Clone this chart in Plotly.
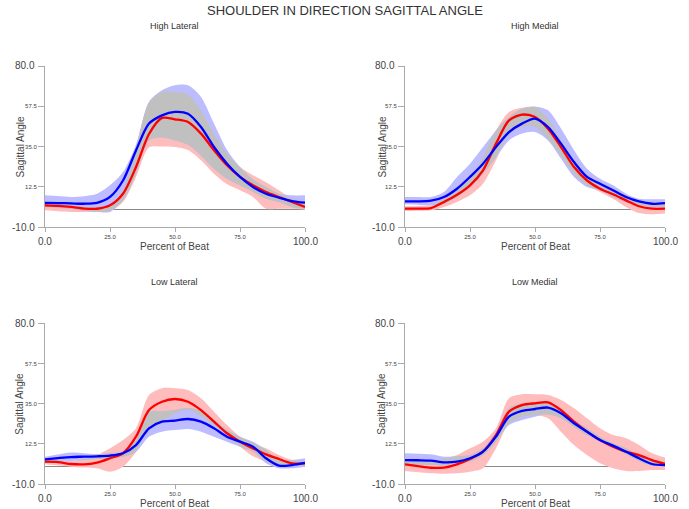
import numpy as np
import plotly.graph_objects as go

# ---------------- data ----------------
pct = [0, 5, 10, 15, 20, 25, 30, 35, 40, 45, 50, 55, 60, 65, 70, 75, 80, 85, 90, 95, 100]

panel_titles = ["High Lateral", "High Medial", "Low Lateral", "Low Medial"]

# High Lateral
hl_blue = [3.5, 3.4, 3.2, 3.0, 3.5, 6.8, 16, 32.8, 47.8, 52.4, 54.3, 53.3, 45.9, 34.7, 25.4, 18, 12.4, 8.6, 6.4, 4.5, 3.6]
hl_blue_hi = [7.7, 7.3, 6.8, 7.2, 8.6, 13.3, 20.7, 36, 60, 66.4, 69.2, 69.2, 62.7, 47.8, 33, 23.5, 16.5, 12.4, 8.6, 7.7, 7.7]
hl_blue_lo = [1.2, 0.8, 0.2, -0.8, -1.6, -1.6, 4.9, 19.8, 38.4, 40, 38.4, 36, 30, 22.6, 17, 13.3, 9.6, 5.8, 4, 1.2, 0.2]
hl_red = [2.1, 1.8, 1.2, 0.3, 0.2, 2.1, 8.6, 23.5, 42, 51, 50.2, 48.7, 42.2, 32.9, 24.5, 18, 13.3, 9.6, 6.8, 4, 1.2]
hl_red_hi = [3, 2.5, 2, 1.5, 1, 2, 10.5, 34, 59.5, 65.5, 65.5, 64, 55, 42, 31, 23.5, 18.9, 15, 10.5, 5.8, 3]
hl_red_lo = [-0.7, -1.2, -1.6, -1.6, -1.6, -1, 4, 18, 34.5, 35, 34.7, 33, 27.3, 19.8, 14, 10.5, 6.8, 0.2, 0.2, 0.2, -0.3]

# High Medial
hm_blue = [4.3, 4.3, 4.7, 6.8, 11.4, 18, 25.4, 34.7, 43.1, 47.8, 50.6, 45.9, 36.6, 26.3, 18, 14.2, 10.5, 6.8, 4.3, 3, 3.4]
hm_blue_hi = [6.8, 6.8, 6.8, 9.6, 18, 25.4, 34.7, 44, 51.5, 56.1, 57.4, 55.2, 45, 32.9, 22.6, 17, 13.3, 8.6, 5.8, 5.5, 5.5]
hm_blue_lo = [2.7, 2.5, 2.1, 3, 6.8, 12.4, 19.8, 29, 38.4, 42.2, 43.1, 38.4, 28.2, 18, 12.4, 10.5, 6.8, 4, 2.1, 1.2, 1.2]
hm_red = [0.25, 0.3, 0.6, 4, 8, 13.3, 21.7, 36.6, 49.6, 52.8, 51.5, 45, 34.7, 23.5, 16, 11.4, 8.3, 4.9, 1.6, 0.25, 0.25]
hm_red_hi = [1.6, 1.8, 2.1, 5.8, 11.4, 18, 29, 44, 54.3, 56.7, 57, 50.6, 38.4, 27.3, 18.9, 13.3, 10.1, 6.8, 4, 2.7, 2.7]
hm_red_lo = [-1, -0.9, -0.7, 1.2, 4, 7.7, 14.2, 27.3, 42, 46, 45.9, 39.4, 30, 19.8, 13.3, 9.6, 5.8, 1.2, -2.2, -2.9, -2.5]

# Low Lateral
ll_blue = [3.8, 4.5, 5.1, 5.3, 5.5, 5.9, 7.2, 11.8, 21.2, 24.9, 25.5, 26.4, 24.9, 21.2, 16.5, 13.7, 10.9, 4.4, 0.3, 0.6, 1.8]
ll_blue_hi = [5.3, 6.5, 7.6, 7.2, 6.8, 7.4, 8.1, 14.6, 30.5, 30.8, 31.5, 32.5, 31, 25.8, 20.2, 16.5, 13.7, 9, 3.4, 3.4, 4.4]
ll_blue_lo = [2.1, 2.5, 2.9, 3.4, 4, 4.6, 5.3, 8.1, 16.5, 19.3, 20.2, 20.8, 19.3, 16.5, 13.7, 10.9, 8.1, 1.6, -1.2, -1.2, -0.3]
ll_red = [2.5, 2.3, 1.2, 1, 2, 4.4, 7.2, 16.5, 31.4, 36.1, 37.6, 36.1, 31.4, 24.9, 18.4, 13.7, 10, 6.6, 4, 1.6, 1.6]
ll_red_hi = [4, 3.5, 2.9, 4, 6.2, 10, 14.6, 21.2, 39.8, 43.6, 43.6, 42.7, 38, 30.5, 23, 16.5, 12.8, 10, 6.2, 3.4, 2.5]
ll_red_lo = [1, 0.3, -0.3, -0.8, -1.2, -3.1, -0.3, 8.1, 22, 25, 29.5, 31.5, 28, 23, 17.5, 11, 5.5, 2.5, 1, 0.3, 0.6]

# Low Medial
lm_blue = [3.4, 3.3, 3.1, 2.1, 2.5, 4.4, 8.1, 16.5, 27.7, 30.9, 32, 32.8, 29.6, 24, 19.3, 14.6, 11.5, 8.1, 4.4, 1.2, 0.6]
lm_blue_hi = [7.2, 7, 6.6, 5.3, 5.5, 6.2, 10, 19.3, 32.4, 35.2, 35.2, 35.2, 32.4, 25.8, 21.2, 16.5, 12.8, 10, 6.2, 3.4, 2.5]
lm_blue_lo = [0.6, 0.6, 0.6, 0.3, 1.6, 2.5, 6.2, 13.7, 23, 25.8, 27.7, 29, 26.8, 22.1, 17.4, 13.7, 10.4, 6.6, 2.9, 0.3, 0.3]
lm_red = [1, 0, -0.9, -0.8, 1, 4, 8.1, 17.4, 30.5, 34.2, 35.2, 35.7, 31.4, 24.9, 19.3, 14.6, 10.9, 8.1, 6.2, 3.4, 1.2]
lm_red_hi = [3.4, 3.4, 3.4, 4, 6.2, 10, 13.7, 21.2, 38, 40.2, 40.2, 39.8, 37, 32.4, 26.8, 21.2, 17.4, 15.6, 11.8, 7.2, 4.8]
lm_red_lo = [-2.7, -3.4, -4, -4.3, -4, -3.1, -1.2, 10, 24, 27.7, 28.6, 26.8, 19.3, 11.8, 6.2, 1.6, -1.2, -2.7, -2.7, -2.2, -2.2]

y_ticks = [-10.0, 12.5, 35.0, 57.5, 80.0]
x_ticks = [0.0, 25.0, 50.0, 75.0, 100.0]

panels = [
    (hl_red, hl_red_lo, hl_red_hi, hl_blue, hl_blue_lo, hl_blue_hi),
    (hm_red, hm_red_lo, hm_red_hi, hm_blue, hm_blue_lo, hm_blue_hi),
    (ll_red, ll_red_lo, ll_red_hi, ll_blue, ll_blue_lo, ll_blue_hi),
    (lm_red, lm_red_lo, lm_red_hi, lm_blue, lm_blue_lo, lm_blue_hi),
]

# ---------------- layout geometry ----------------
W, H = 689, 509
def px(x):
    return x / W
def py(y):
    return 1 - y / H

x_doms = [[px(45), px(305)], [px(405), px(665)]]
y_doms = [[py(227), py(66)], [py(484), py(323.3)]]

PINK = "rgb(255,188,188)"
LBLUE = "rgb(188,188,255)"
GRAY = "rgb(192,192,192)"
TXT = "#444444"
FONT = "Liberation Sans, Arial, sans-serif"

fig = go.Figure()

def band(fig, xa, ya, lo, hi, color):
    fig.add_trace(go.Scatter(x=pct, y=lo, xaxis=xa, yaxis=ya, mode="lines",
                             line=dict(width=0, shape="spline", smoothing=0.8),
                             showlegend=False, hoverinfo="skip"))
    fig.add_trace(go.Scatter(x=pct, y=hi, xaxis=xa, yaxis=ya, mode="lines",
                             line=dict(width=0, shape="spline", smoothing=0.8),
                             fill="tonexty", fillcolor=color,
                             showlegend=False, hoverinfo="skip"))

annotations = []
for i, (r, rlo, rhi, b, blo, bhi) in enumerate(panels):
    row, col = divmod(i, 2)
    n = i + 1
    xa = "x" if n == 1 else f"x{n}"
    ya = "y" if n == 1 else f"y{n}"
    band(fig, xa, ya, rlo, rhi, PINK)
    band(fig, xa, ya, blo, bhi, LBLUE)
    glo = np.maximum(np.array(rlo), np.array(blo))
    ghi = np.minimum(np.array(rhi), np.array(bhi))
    ghi = np.maximum(ghi, glo)
    band(fig, xa, ya, glo.tolist(), ghi.tolist(), GRAY)
    fig.add_trace(go.Scatter(x=pct, y=r, xaxis=xa, yaxis=ya, mode="lines",
                             line=dict(color="#ff0000", width=2.3, shape="spline", smoothing=0.8),
                             showlegend=False))
    fig.add_trace(go.Scatter(x=pct, y=b, xaxis=xa, yaxis=ya, mode="lines",
                             line=dict(color="#0000ff", width=2.3, shape="spline", smoothing=0.8),
                             showlegend=False))

    xkey = "xaxis" if n == 1 else f"xaxis{n}"
    ykey = "yaxis" if n == 1 else f"yaxis{n}"
    fig.update_layout(**{
        xkey: dict(domain=x_doms[col], anchor=ya, range=[0, 100],
                   tickvals=x_ticks,
                   ticktext=["", "25.0", "50.0", "75.0", ""],
                   tickfont=dict(size=6, color=TXT, family=FONT),
                   ticks="outside", ticklen=4, tickcolor="#aaaaaa",
                   showline=True, linecolor="#aaaaaa", linewidth=1,
                   showgrid=False, zeroline=False, fixedrange=True),
        ykey: dict(domain=y_doms[row], anchor=xa, range=[-10, 80],
                   tickvals=y_ticks,
                   ticktext=["", "12.5", "35.0", "57.5", ""],
                   tickfont=dict(size=6, color=TXT, family=FONT),
                   ticks="outside", ticklen=6, tickcolor="#aaaaaa",
                   showline=True, linecolor="#aaaaaa", linewidth=1,
                   showgrid=False, zeroline=True, zerolinecolor="#8a8a8a",
                   zerolinewidth=1, fixedrange=True),
    })

    # large end tick labels
    for v, s in [(x_ticks[0], "0.0"), (x_ticks[-1], "100.0")]:
        annotations.append(dict(x=v, y=y_ticks[0], xref=xa, yref=ya, text=s,
                                showarrow=False, xanchor="center", yanchor="middle",
                                yshift=-14, font=dict(size=10, color=TXT, family=FONT)))
    for v, s in [(y_ticks[0], "-10.0"), (y_ticks[-1], "80.0")]:
        annotations.append(dict(x=x_ticks[0], y=v, xref=xa, yref=ya, text=s,
                                showarrow=False, xanchor="right", yanchor="middle",
                                xshift=-8, font=dict(size=10, color=TXT, family=FONT)))

    cx = (x_doms[col][0] + x_doms[col][1]) / 2
    title_y = py(26) if row == 0 else py(282)
    annotations.append(dict(x=cx, y=title_y, xref="paper", yref="paper",
                            text=panel_titles[i], showarrow=False,
                            xanchor="center", yanchor="middle",
                            font=dict(size=9, color="#333333", family=FONT)))
    xt_y = py(246) if row == 0 else py(503)
    annotations.append(dict(x=cx, y=xt_y, xref="paper", yref="paper",
                            text="Percent of Beat", showarrow=False,
                            xanchor="center", yanchor="middle",
                            font=dict(size=10, color=TXT, family=FONT)))
    yt_x = px(20) if col == 0 else px(382)
    yt_y = (y_doms[row][0] + y_doms[row][1]) / 2
    annotations.append(dict(x=yt_x, y=yt_y, xref="paper", yref="paper",
                            text="Sagittal Angle", showarrow=False, textangle=-90,
                            xanchor="center", yanchor="middle",
                            font=dict(size=10, color=TXT, family=FONT)))

annotations.append(dict(x=0.5, y=py(11), xref="paper", yref="paper",
                        text="SHOULDER IN DIRECTION SAGITTAL ANGLE", showarrow=False,
                        xanchor="center", yanchor="middle",
                        font=dict(size=13, color="#333333", family=FONT)))

fig.update_layout(width=W, height=H, margin=dict(l=0, r=0, t=0, b=0),
                  paper_bgcolor="white", plot_bgcolor="white",
                  showlegend=False, annotations=annotations,
                  font=dict(family=FONT, color=TXT))

fig.write_html("out.html", config={"displayModeBar": False})
